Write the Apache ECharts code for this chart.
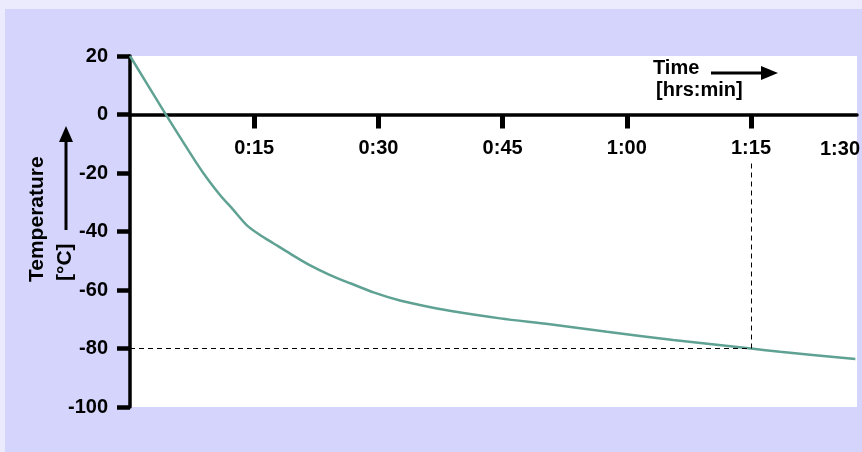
<!DOCTYPE html>
<html>
<head>
<meta charset="utf-8">
<script src="https://cdn.jsdelivr.net/npm/echarts@6/dist/echarts.min.js"></script>
<style>
html,body{margin:0;padding:0;background:#ebebfd;}
#chart{width:862px;height:452px;}
</style>
</head>
<body>
<div id="chart"></div>
<script>
// Data (time in minutes, temperature in °C)
const timeMin = [0, 4.0, 8.06, 9.46, 10.87, 12.48, 14.09, 15.7, 17.3, 19.3, 21.7, 24.1, 26.6, 29.5, 32.6, 35.6, 38.6, 44.7, 50.7, 57.6, 65.6, 75, 78.5, 87.6];
const tempC   = [20, 1.5, -16.7, -22.4, -27.5, -32.6, -37.8, -41.2, -44.0, -47.5, -51.5, -54.8, -57.7, -60.9, -63.6, -65.5, -67.1, -69.7, -71.7, -74.3, -77.1, -80, -81.1, -83.6];
const xTickValues = [15, 30, 45, 60, 75];
const xLastLabel = '1:30';
const yTicks = [-100, -80, -60, -40, -20, 0, 20];
const markTime = 75;
const markTemp = -80;
const markLineTop = -15.5;

const FONT = "'Liberation Sans', Arial, sans-serif";
function fmtTime(v) {
  const h = Math.floor(v / 60);
  const m = Math.round(v % 60);
  return h + ':' + (m < 10 ? '0' + m : m);
}

const chart = echarts.init(document.getElementById('chart'));
chart.setOption({
  animation: false,
  backgroundColor: '#ebebfd',
  grid: {
    left: 130, right: 5, top: 56, bottom: 45,
    show: true, backgroundColor: '#ffffff', borderWidth: 0
  },
  xAxis: {
    type: 'value',
    position: 'bottom',
    offset: -292.5,
    min: 0,
    max: 87.8,
    axisLine: { show: true, onZero: false, lineStyle: { color: '#000', width: 3.5 } },
    axisTick: { show: true, length: 14, customValues: xTickValues, lineStyle: { color: '#000', width: 5 } },
    axisLabel: {
      customValues: xTickValues,
      formatter: fmtTime,
      margin: 24,
      color: '#000',
      fontFamily: FONT, fontWeight: 'bold', fontSize: 20
    },
    splitLine: { show: false }
  },
  yAxis: {
    type: 'value',
    min: yTicks[0],
    max: yTicks[yTicks.length - 1],
    interval: 20,
    axisLine: { show: true, lineStyle: { color: '#000', width: 3.5 } },
    axisTick: { show: true, length: 13, lineStyle: { color: '#000', width: 4.5 } },
    axisLabel: {
      margin: 22,
      color: '#000',
      fontFamily: FONT, fontWeight: 'bold', fontSize: 20
    },
    splitLine: { show: false }
  },
  graphic: [
    { type: 'rect', z: -10, silent: true, shape: { x: 5, y: 9, width: 857, height: 443 }, style: { fill: '#d4d4fc' } },
    { type: 'text', z: 10, x: 653, y: 68, style: { text: 'Time', font: "bold 20px " + FONT, fill: '#000', textAlign: 'left', textVerticalAlign: 'middle' } },
    { type: 'text', z: 10, x: 656, y: 90, style: { text: '[hrs:min]', font: "bold 20px " + FONT, fill: '#000', textAlign: 'left', textVerticalAlign: 'middle' } },
    { type: 'line', z: 10, shape: { x1: 711, y1: 73, x2: 763, y2: 73 }, style: { stroke: '#000', lineWidth: 3 } },
    { type: 'polygon', z: 10, shape: { points: [[761, 66], [778, 73], [761, 80]] }, style: { fill: '#000' } },
    { type: 'text', z: 10, x: 860, y: 149, style: { text: xLastLabel, font: "bold 20px " + FONT, fill: '#000', textAlign: 'right', textVerticalAlign: 'middle' } },
    { type: 'text', z: 10, x: 37, y: 282, rotation: Math.PI / 2, style: { text: 'Temperature', font: "bold 21px " + FONT, fill: '#000', textAlign: 'left', textVerticalAlign: 'middle' } },
    { type: 'text', z: 10, x: 65, y: 281, rotation: Math.PI / 2, style: { text: '[°C]', font: "bold 21px " + FONT, fill: '#000', textAlign: 'left', textVerticalAlign: 'middle' } },
    { type: 'line', z: 10, shape: { x1: 66, y1: 230, x2: 66, y2: 140 }, style: { stroke: '#000', lineWidth: 3 } },
    { type: 'polygon', z: 10, shape: { points: [[59, 142], [66, 126], [73, 142]] }, style: { fill: '#000' } }
  ],
  series: [{
    type: 'line',
    data: timeMin.map((t, i) => [t, tempC[i]]),
    smooth: 0.3,
    showSymbol: false,
    lineStyle: { color: '#5fa293', width: 2.5 },
    z: 3,
    markLine: {
      silent: true,
      symbol: 'none',
      label: { show: false },
      lineStyle: { color: '#000', width: 1, type: [5, 4] },
      data: [
        [{ coord: [0, markTemp] }, { coord: [markTime, markTemp] }],
        [{ coord: [markTime, markTemp] }, { coord: [markTime, markLineTop] }]
      ]
    }
  }]
});
</script>
</body>
</html>
